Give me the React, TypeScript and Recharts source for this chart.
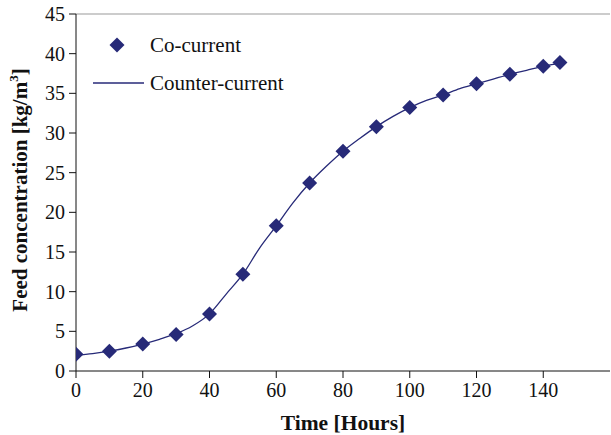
import React from 'react';
import { ComposedChart, Line, Scatter, XAxis, YAxis, ReferenceLine } from 'recharts';

const coTime = [0, 10, 20, 30, 40, 50, 60, 70, 80, 90, 100, 110, 120, 130, 140, 145];
const coConc = [2.1, 2.5, 3.4, 4.6, 7.2, 12.2, 18.3, 23.7, 27.7, 30.8, 33.2, 34.8, 36.2, 37.4, 38.4, 38.9];

const counterTime = [0, 5, 10, 15, 20, 25, 30, 35, 40, 45, 50, 55, 60, 65, 70, 75, 80, 85, 90, 95, 100, 105, 110, 115, 120, 125, 130, 135, 140, 145];
const counterConc = [2.0, 2.2, 2.5, 2.9, 3.4, 4.0, 4.7, 5.7, 7.2, 9.7, 12.2, 15.5, 18.3, 21.2, 23.7, 25.8, 27.7, 29.3, 30.8, 32.1, 33.2, 34.1, 34.8, 35.6, 36.2, 36.8, 37.4, 37.9, 38.4, 38.8];

const xTicks = [0, 20, 40, 60, 80, 100, 120, 140];
const yTicks = [0, 5, 10, 15, 20, 25, 30, 35, 40, 45];

const coData = coTime.map((t, i) => ({ t, c: coConc[i] }));
const counterData = counterTime.map((t, i) => ({ t, c: counterConc[i] }));

const NAVY = '#272A78';
const FONT = 'Liberation Serif';

const Diamond = (props: any) => {
  const { cx, cy } = props;
  if (cx == null || cy == null) return null;
  const r = 7.5;
  return <path d={`M${cx},${cy - r}L${cx + r},${cy}L${cx},${cy + r}L${cx - r},${cy}Z`} fill={NAVY} />;
};

const YLabel = () => (
  <text
    x={20}
    y={190}
    transform="rotate(-90, 20, 190)"
    textAnchor="middle"
    dominantBaseline="central"
    style={{ fontFamily: FONT, fontWeight: 'bold', fontSize: 21 }}
    fill="#111"
  >
    Feed concentration [kg/m<tspan dy={-7} style={{ fontSize: 13 }}>3</tspan><tspan dy={7}>]</tspan>
  </text>
);

const tickStyle = { fill: '#111', fontSize: 20, fontFamily: FONT };

export default function App() {
  return (
    <div style={{ position: 'absolute', left: 0, top: 0, fontFamily: FONT }}>
      <div style={{ position: 'relative', width: 611, height: 435 }}>
        <ComposedChart width={611} height={435} margin={{ top: 14, right: 1, left: 0, bottom: 0 }} style={{ fontFamily: FONT }}>
          <XAxis
            type="number"
            dataKey="t"
            domain={[0, 160]}
            ticks={xTicks}
            allowDataOverflow
            height={64}
            stroke="#111"
            tickSize={7}
            tickMargin={5}
            tick={tickStyle}
            label={{ value: 'Time [Hours]', position: 'insideBottom', offset: 5, style: { fontFamily: FONT, fontWeight: 'bold', fontSize: 21.5, fill: '#111' } }}
          />
          <YAxis
            type="number"
            dataKey="c"
            domain={[0, 45]}
            ticks={yTicks}
            width={76}
            stroke="#111"
            tickSize={7}
            tickMargin={4}
            tick={tickStyle}
            label={<YLabel />}
          />
          <ReferenceLine y={45} stroke="#999" strokeWidth={1} />
          <Line
            data={counterData}
            dataKey="c"
            type="monotone"
            stroke={NAVY}
            strokeWidth={1.3}
            dot={false}
            activeDot={false}
            isAnimationActive={false}
          />
          <Scatter data={coData} dataKey="c" shape={<Diamond />} isAnimationActive={false} />
        </ComposedChart>
        <svg width={611} height={435} style={{ position: 'absolute', left: 0, top: 0, pointerEvents: 'none' }}>
          <path d="M117,37.5L124.5,45L117,52.5L109.5,45Z" fill={NAVY} />
          <text x={150} y={45} dominantBaseline="central" style={{ fontFamily: FONT, fontSize: 21 }} fill="#111">Co-current</text>
          <line x1={93} y1={83} x2={144} y2={83} stroke={NAVY} strokeWidth={1.3} />
          <text x={150} y={83} dominantBaseline="central" style={{ fontFamily: FONT, fontSize: 21 }} fill="#111">Counter-current</text>
        </svg>
      </div>
    </div>
  );
}
